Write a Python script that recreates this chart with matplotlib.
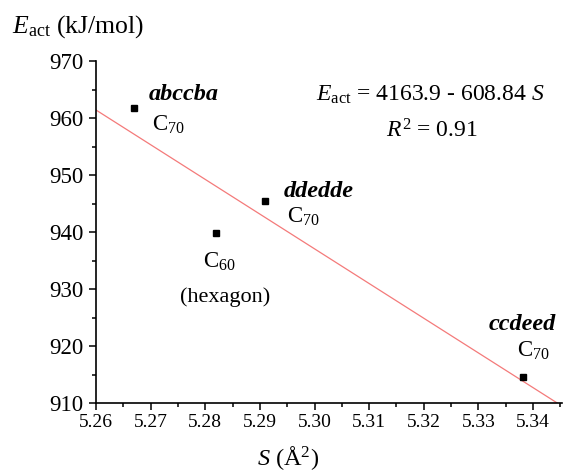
import matplotlib
matplotlib.use("Agg")
import matplotlib.pyplot as plt
from matplotlib.ticker import MultipleLocator, FormatStrFormatter
import numpy as np

plt.rcParams['font.family'] = ['Liberation Serif', 'DejaVu Serif']
plt.rcParams['mathtext.fontset'] = 'custom'
plt.rcParams['mathtext.rm'] = 'Liberation Serif'
plt.rcParams['mathtext.it'] = 'Liberation Serif:italic'
plt.rcParams['mathtext.bf'] = 'Liberation Serif:bold'

# data
S_vals = [5.2670, 5.2910, 5.2819, 5.3382]
E_vals = [961.8, 945.4, 939.8, 914.6]
names = ["abccba", "ddedde", "", "ccdeed"]
species = [r"C$_{70}$", r"C$_{70}$", r"C$_{60}$", r"C$_{70}$"]
intercept = 4163.9
slope = -608.84
xticks = [5.26, 5.27, 5.28, 5.29, 5.30, 5.31, 5.32, 5.33, 5.34]
yticks = [910, 920, 930, 940, 950, 960, 970]

W, H = 582, 473
fig = plt.figure(figsize=(W / 100, H / 100), dpi=100)
ax = fig.add_axes([96 / W, 1 - 403 / H, (562 - 96) / W, (403 - 61) / H])

xfit = np.array([5.26, 5.3453])
ax.plot(xfit, intercept + slope * xfit, color='#f47a7a', lw=0.9, zorder=1)
ax.plot(S_vals, E_vals, 's', color='black', ms=5, zorder=3)

ax.set_xlim(5.26, 5.3453)
ax.set_ylim(910, 970)
ax.set_xticks(xticks)
ax.set_yticks(yticks)
ax.xaxis.set_major_formatter(FormatStrFormatter('%.2f'))
ax.xaxis.set_minor_locator(MultipleLocator(0.005))
ax.yaxis.set_minor_locator(MultipleLocator(5))
for s in ['top', 'right']:
    ax.spines[s].set_visible(False)
for s in ['left', 'bottom']:
    ax.spines[s].set_linewidth(1.2)
ax.tick_params(which='major', direction='out', length=5, width=1.1)
ax.tick_params(which='minor', direction='out', length=3, width=1.1)
ax.tick_params(axis='y', labelsize=16.5, pad=4)
ax.tick_params(axis='x', labelsize=14, pad=3)

# offsets (pixels) for labels relative to points
name_off = [(14, 8), (18, 4), None, (-35, 47)]
sp_off = [(18, -23), (22, -21), (-13, -35), (-6, 20)]
for x, y, nm, sp, no, so in zip(S_vals, E_vals, names, species, name_off, sp_off):
    if nm:
        ax.annotate(nm, (x, y), xytext=no, textcoords='offset pixels',
                    fontsize=17.5, fontweight='bold', fontstyle='italic',
                    ha='left', va='baseline')
    ax.annotate(sp, (x, y), xytext=so, textcoords='offset pixels',
                fontsize=16.5, ha='left', va='baseline')
ax.annotate("(hexagon)", (S_vals[2], E_vals[2]), xytext=(9, -69),
            textcoords='offset pixels', fontsize=16, ha='center', va='baseline')

ax.text(430 / W, 1 - 101 / H, r"$E_{\mathrm{act}}$ = 4163.9 - 608.84 $S$",
        transform=fig.transFigure, fontsize=17, ha='center', va='baseline')
ax.text(432 / W, 1 - 137 / H, r"$R^{2}$ = 0.91",
        transform=fig.transFigure, fontsize=17, ha='center', va='baseline')

fig.text(12 / W, 1 - 33 / H, r"$E_{\mathrm{act}}$ (kJ/mol)", fontsize=18.5,
         ha='left', va='baseline')
fig.text(288 / W, 1 - 465 / H, r"$S$ (Å$^{2}$)", fontsize=17.5,
         ha='center', va='baseline')

fig.savefig("out.png", dpi=100)
